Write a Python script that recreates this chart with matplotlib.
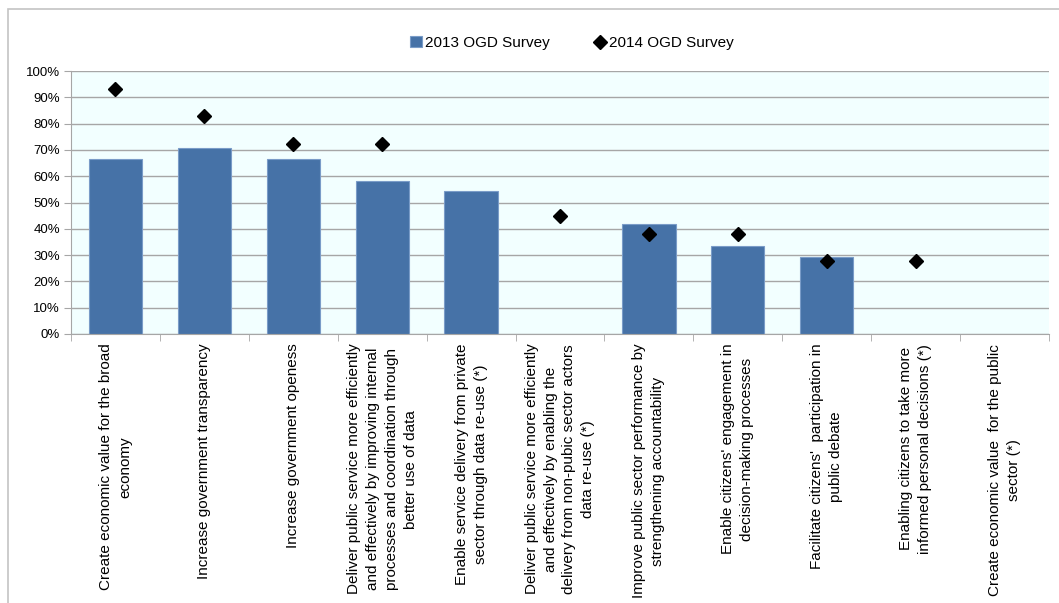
import matplotlib
matplotlib.use("Agg")
import matplotlib.pyplot as plt
from matplotlib.patches import Rectangle
from matplotlib.ticker import FixedLocator, PercentFormatter

categories = [
    "Create economic value for the broad\neconomy",
    "Increase government transparency",
    "Increase government openess",
    "Deliver public service more efficiently\nand effectively by improving internal\nprocesses and coordination through\nbetter use of data",
    "Enable service delivery from private\nsector through data re-use (*)",
    "Deliver public service more efficiently\nand effectively by enabling the\ndelivery from non-pubic sector actors\ndata re-use (*)",
    "Improve public sector performance by\nstrengthening accountability",
    "Enable citizens' engagement in\ndecision-making processes",
    "Facilitate citizens'  participation in\npublic debate",
    "Enabling citizens to take more\ninformed personal decisions (*)",
    "Create economic value  for the public\nsector (*)",
]
# None = not asked in that survey
survey_2013 = [66.7, 70.8, 66.7, 58.3, 54.2, None, 41.7, 33.3, 29.2, None, None]
survey_2014 = [93.1, 82.8, 72.4, 72.4, None, 44.8, 37.9, 37.9, 27.6, 27.6, None]

plt.rcParams["font.family"] = ["Liberation Sans", "DejaVu Sans"]

fig = plt.figure(figsize=(10.59, 6.03), dpi=100)
ax = fig.add_axes([71 / 1059, 1 - 334 / 603, (1049 - 71) / 1059, (334 - 71) / 603])

# outer chart border (cropped at right and bottom)
fig.patches.append(Rectangle((8 / 1059, -0.1), 1.2, 1.1 - 9 / 603,
                             transform=fig.transFigure, fill=False,
                             edgecolor="#c4c4c4", linewidth=1.2))

x = list(range(len(categories)))
bx = [i for i, v in zip(x, survey_2013) if v is not None]
bv = [v for v in survey_2013 if v is not None]
dx = [i for i, v in zip(x, survey_2014) if v is not None]
dv = [v for v in survey_2014 if v is not None]

ax.set_facecolor("#f2ffff")
bars = ax.bar(bx, bv, width=0.6, color="#4672a7", edgecolor="#7a9cc8", linewidth=0.8,
              label="2013 OGD Survey", zorder=2)
pts, = ax.plot(dx, dv, linestyle="none", marker="D", markersize=7.5, color="black",
               label="2014 OGD Survey", zorder=3)

ax.set_xlim(-0.5, len(categories) - 0.5)
ax.set_ylim(0, 100)
ax.set_yticks(range(0, 101, 10))
ax.yaxis.set_major_formatter(PercentFormatter(decimals=0))
ax.yaxis.grid(True, color="#a6a6a6", linewidth=1.0, zorder=0)
ax.set_axisbelow(True)

ax.set_xticks(x)
ax.set_xticklabels(categories, rotation=90, ha="center", va="top",
                   multialignment="center", fontsize=11, linespacing=1.45)
ax.xaxis.set_minor_locator(FixedLocator([i - 0.5 for i in range(len(categories) + 1)]))
ax.tick_params(axis="x", which="major", length=0, pad=7)
ax.tick_params(axis="x", which="minor", length=5, color="#a6a6a6", direction="out")
ax.tick_params(axis="y", length=5, color="#a6a6a6", labelsize=9.5, pad=3)

for s in ["top", "right"]:
    ax.spines[s].set_visible(False)
for s in ["left", "bottom"]:
    ax.spines[s].set_color("#a6a6a6")

fig.legend(handles=[bars, pts], loc="center", bbox_to_anchor=(572 / 1059, 1 - 43 / 603),
           ncol=2, frameon=False, fontsize=11, handlelength=0.8, handletextpad=0.2,
           columnspacing=2.9)

fig.savefig("out.png", dpi=100)
